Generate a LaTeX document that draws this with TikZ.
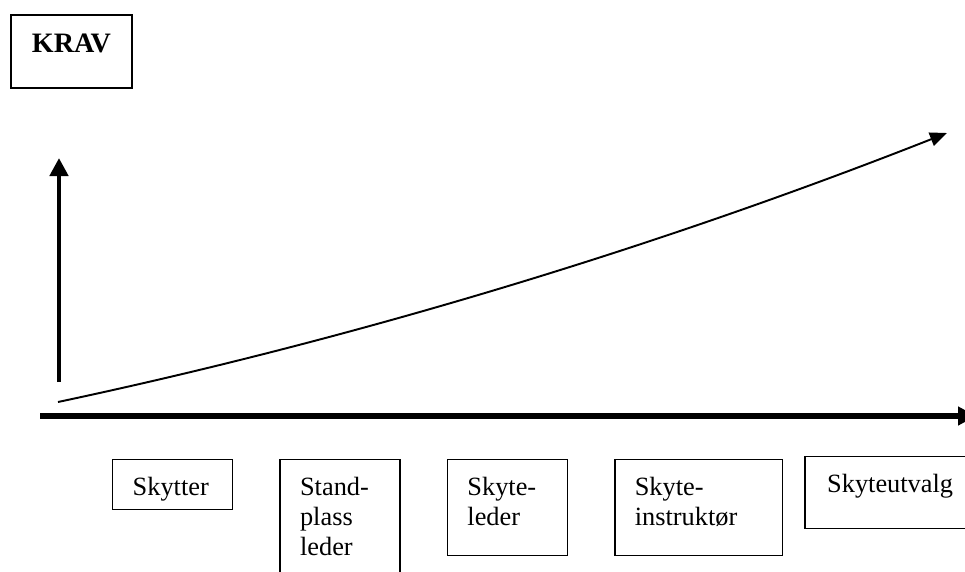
\documentclass[tikz,border=0pt]{standalone}
\usepackage{fontspec}
\setmainfont{Liberation Serif}
\usetikzlibrary{positioning,arrows.meta}

\begin{document}
\begin{tikzpicture}[x=0.02cm, y=-0.02cm, font=\fontsize{15}{17}\selectfont,
  box/.style={draw, line width=0.8pt, anchor=north west, align=left,
    inner xsep=0.4cm, inner ysep=0pt, text height=0.72cm},
  axis/.style={line width=0.11cm, -{Triangle[length=0.36cm,width=0.36cm]}}]
  \useasboundingbox (0,0) rectangle (965,572);

  % Title
  \node[draw, line width=1.1pt, anchor=north west, minimum width=2.42cm, inner sep=0pt,
    text height=0.76cm, text depth=0.7cm, font=\fontsize{16}{18}\selectfont\bfseries] (krav) at (10,14) {KRAV};

  % Axes
  \coordinate (origin) at (40,416);
  \coordinate (xend) at (976,416);
  \coordinate (ybottom) at (59,382);
  \coordinate (ytop) at (59,158);
  \draw[axis] (origin) -- (xend);
  \draw[axis, line width=0.1cm] (ybottom) -- (ytop);

  % Curve
  \coordinate (cstart) at (58,402);
  \coordinate (cend) at (947,133);
  \draw[line width=1.1pt, -{Triangle[length=0.34cm,width=0.28cm]}]
    (cstart) .. controls (350,340) and (650,250) .. (cend);

  % Roles
  \node[box, text width=1.6cm, text depth=0.28cm] (skytter) at (112,459) {Skytter};
  \node[box, text width=1.6cm, text depth=1.9cm, right=0.92cm of skytter.north east,
    anchor=north west] (standplass) {Stand-\\plass\\leder};
  \node[box, text width=1.6cm, text depth=1.2cm, right=0.92cm of standplass.north east,
    anchor=north west] (skyteleder) {Skyte-\\leder};
  \node[box, text width=2.56cm, text depth=1.2cm, right=0.92cm of skyteleder.north east,
    anchor=north west] (instruktor) {Skyte-\\instruktør};
  \node[box, text width=2.8cm, text depth=0.72cm, inner xsep=0.44cm, right=0.42cm of instruktor.north east,
    anchor=north west, yshift=0.06cm] (utvalg) {Skyteutvalg};
\end{tikzpicture}
\end{document}
